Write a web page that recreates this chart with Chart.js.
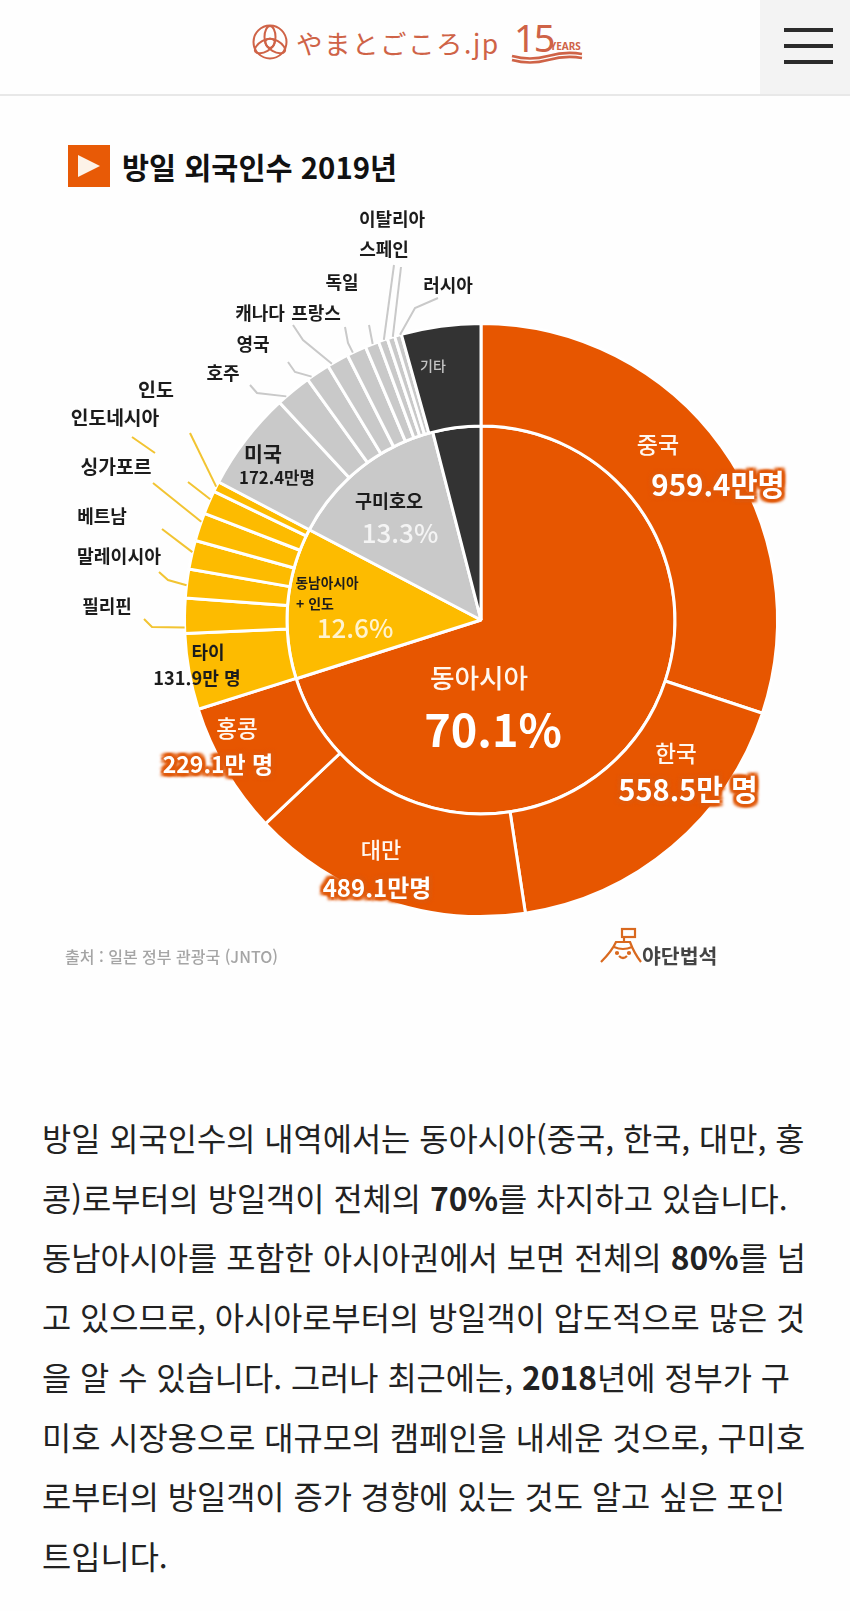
<!DOCTYPE html>
<html lang="ko">
<head>
<meta charset="utf-8">
<title>방일 외국인수 2019년</title>
<script src="https://cdn.jsdelivr.net/npm/chart.js@4"></script>
<style>
html, body { margin: 0; padding: 0; background: #fefefe; }
body { position: relative; width: 850px; height: 1611px; overflow: hidden;
       font-family: "Noto Sans CJK KR", "Noto Sans", sans-serif; color: #1c1c1c; }
.menu { position: absolute; left: 760px; top: 0; width: 90px; height: 95px; background: #f3f3f3; }
.menu i { position: absolute; left: 24px; width: 49px; height: 4px; background: #2b2b2b; }
.rule { position: absolute; left: 0; top: 94px; width: 850px; height: 2px; background: #e8e8e8; }
.brand { position: absolute; left: 296px; top: 18px; font: 400 26.5px/50px "Noto Sans CJK JP"; color: #cf6347; letter-spacing: 1.5px; white-space: nowrap; }
.fifteen { position: absolute; left: 514px; top: 14px; font: 400 38px/46px "Noto Sans", sans-serif; color: #cf6347; letter-spacing: -2px; }
.years { position: absolute; left: 550px; top: 40px; font: 700 10px/12px "Noto Sans", sans-serif; color: #cf6347; }
.title { position: absolute; left: 122px; top: 146px; font: 700 29.4px/40px "Noto Sans CJK KR"; color: #111; white-space: nowrap; }
#chartBox { position: absolute; left: 0; top: 190px; width: 850px; height: 780px; }
.lbl { position: absolute; transform: translate(-50%, -50%); white-space: nowrap; font-weight: 700; line-height: 1; }
/* the scanned labels carry an orange patch where they run off the pie */
.glow { text-shadow: 3px 0 2px #e0590a, -3px 0 2px #e0590a, 0 3px 2px #e0590a, 0 -3px 2px #e0590a, 3px 3px 3px #e0590a, -3px 3px 3px #e0590a, 3px -3px 3px #e0590a, -3px -3px 3px #e0590a; }
.source { position: absolute; left: 65px; top: 945px; font: 500 16px/22px "Noto Sans CJK KR"; color: #a5a5a5; white-space: nowrap; }
.maker { position: absolute; left: 642px; top: 940px; font: 700 20.5px/30px "Noto Sans CJK KR"; color: #444; white-space: nowrap; }
.body { position: absolute; left: 42px; top: 1108px; font: 400 31.75px/59.7px "Noto Sans CJK KR"; color: #222; white-space: nowrap; }
.body b { font-weight: 700; }
</style>
</head>
<body>
<svg style="position:absolute;left:0;top:0" width="850" height="200">
  <g fill="none" stroke="#cf6347" stroke-width="2">
    <circle cx="270" cy="42" r="16.5"/>
    <ellipse cx="270" cy="37" rx="5.5" ry="11"/>
    <ellipse cx="270" cy="37" rx="5.5" ry="11" transform="rotate(120 270 43)"/>
    <ellipse cx="270" cy="37" rx="5.5" ry="11" transform="rotate(240 270 43)"/>
    <path d="M512 56 Q530 61 548 56 T582 54 M512 60 Q530 65 548 60 T582 58" stroke-width="2.5"/>
  </g>
  <rect x="68" y="145" width="42" height="42" fill="#e85a06"/>
  <path d="M78 155 L100 166 L78 177Z" fill="#fdf3e8"/>
</svg>
<div class="brand">やまとごころ.jp</div>
<div class="fifteen">15</div>
<div class="years">YEARS</div>
<div class="menu"><i style="top:28px"></i><i style="top:44px"></i><i style="top:60px"></i></div>
<div class="rule"></div>
<div class="title">방일 외국인수 2019년</div>
<div id="chartBox"><canvas id="chart" width="850" height="780"></canvas></div>
<div id="labels"></div>
<div class="source">출처 : 일본 정부 관광국 (JNTO)</div>
<svg style="position:absolute;left:600px;top:925px" width="44" height="48">
  <g fill="none" stroke="#d9691f" stroke-width="2.2">
    <rect x="22" y="4" width="13" height="8"/>
    <path d="M24 12 V18 M1 37 Q12 26 16 17 H30 Q34 28 41 37 M14 22 Q23 26 32 22 M19 31 Q23 35 27 31"/>
    <circle cx="17" cy="28" r="1"/>
    <circle cx="29" cy="28" r="1"/>
  </g>
</svg>
<div class="maker">야단법석</div>
<div class="body">
방일 외국인수의 내역에서는 동아시아(중국, 한국, 대만, 홍<br>
콩)로부터의 방일객이 전체의 <b>70%</b>를 차지하고 있습니다.<br>
동남아시아를 포함한 아시아권에서 보면 전체의 <b>80%</b>를 넘<br>
고 있으므로, 아시아로부터의 방일객이 압도적으로 많은 것<br>
을 알 수 있습니다. 그러나 최근에는, <b>2018</b>년에 정부가 구<br>
미호 시장용으로 대규모의 캠페인을 내세운 것으로, 구미호<br>
로부터의 방일객이 증가 경향에 있는 것도 알고 싶은 포인<br>
트입니다.
</div>

<script>
// Outer ring: countries, in 만명
const countries = ['중국', '한국', '대만', '홍콩', '타이', '필리핀', '말레이시아', '베트남', '싱가포르', '인도네시아', '인도',
                   '미국', '호주', '영국', '캐나다', '프랑스', '독일', '이탈리아', '스페인', '러시아', '기타'];
const countryValues = [959.4, 558.5, 489.1, 229.1, 131.9, 61, 50, 50, 49, 41, 18,
                       172.4, 62, 42, 38, 34, 24, 16, 13, 12, 138];

// Inner ring: regions, in %
const regions = ['동아시아', '동남아시아 + 인도', '구미호오', '기타'];
const regionValues = [70.1, 12.6, 13.3, 4.0];

const ORANGE = '#e75600';
const YELLOW = '#fdbb00';
const GREY = '#c9c9c9';
const DARK = '#333333';

const countryColors = countries.map(function(name, i) {
    if (i < 4) return ORANGE;
    if (i < 11) return YELLOW;
    if (i < 20) return GREY;
    return DARK;
});

// Leader lines: where on the slice they leave (0-1 along the arc), then the bends in page pixels
const leaders = {
    '필리핀': { at: 0.17, via: [[152, 627], [144, 619]] },
    '말레이시아': { at: 0.44, via: [[168, 580], [159, 572]] },
    '베트남': { at: 0.59, via: [[162, 529]] },
    '싱가포르': { at: 0.69, via: [[153, 483]] },
    '인도네시아': { at: 0.64, via: [[188, 482]] },
    '인도': { at: 0.5, via: [[190, 433]] },
    '호주': { at: 0.25, via: [[257, 393], [250, 385]] },
    '영국': { at: 0.2, via: [[295, 372], [288, 362]] },
    '캐나다': { at: 0.2, via: [[303, 340], [293, 325]] },
    '프랑스': { at: 0.3, via: [[348, 343], [345, 327]] },
    '독일': { at: 0.55, via: [[369, 325]] },
    '이탈리아': { at: 0.6, via: [[394, 265]] },
    '스페인': { at: 0.75, via: [[401, 267]] },
    '러시아': { at: 0.8, via: [[415, 308], [438, 298]] }
};

// Text on and around the pie: text, centre x, centre y, size, colour, glow, weight
const labelSpots = [
    ['이탈리아', 392, 218, 18, '#1c1c1c'], ['스페인', 384, 248, 18, '#1c1c1c'],
    ['독일', 342, 281, 18, '#1c1c1c'], ['러시아', 448, 284, 18, '#1c1c1c'],
    ['캐나다', 260, 312, 18, '#1c1c1c'], ['프랑스', 316, 312, 18, '#1c1c1c'],
    ['영국', 253, 343, 18, '#1c1c1c'], ['호주', 223, 372, 18, '#1c1c1c'],
    ['인도', 156, 389, 19.5, '#1c1c1c'], ['인도네시아', 115, 418, 19.3, '#1c1c1c'],
    ['싱가포르', 116, 467, 19.3, '#1c1c1c'], ['베트남', 102, 515, 18, '#1c1c1c'],
    ['말레이시아', 119, 555, 18.3, '#1c1c1c'], ['필리핀', 107, 605, 18, '#1c1c1c'],
    ['타이', 208, 651, 18, '#1c1c1c'], ['131.9만 명', 197, 677, 18.2, '#1c1c1c'],
    ['미국', 263, 453, 20.6, '#1c1c1c'], ['172.4만명', 277, 477, 16.8, '#1c1c1c'],
    ['구미호오', 389, 500, 18.5, '#1c1c1c'], ['13.3%', 400, 532, 26, '#f4f4f4', false, 500],
    ['기타', 433, 365, 14, '#c4c4c4', false, 500],
    ['동남아시아', 327, 583, 13.7, '#1c1c1c'], ['+ 인도', 315, 603, 14, '#1c1c1c'],
    ['12.6%', 355, 627, 26, '#fff3cf', false, 500],
    ['동아시아', 479, 677, 26.7, '#fff7ef', false, 500], ['70.1%', 493, 727, 45, '#ffffff'],
    ['중국', 658, 443, 23, '#fff7ef', false, 500], ['959.4만명', 718, 484, 29.5, '#ffffff', true],
    ['한국', 676, 752, 22.5, '#fff7ef', false, 500], ['558.5만 명', 688, 788, 29, '#ffffff', true],
    ['대만', 381, 848, 22, '#fff7ef', false, 500], ['489.1만명', 377, 887, 24, '#ffffff', true],
    ['홍콩', 237, 727, 22.5, '#fff7ef', false, 500], ['229.1만 명', 218, 763, 23, '#ffffff', true]
];

// Draws the leader lines once the slices are placed
const leaderPlugin = {
    id: 'leaders',
    afterDraw: function(chart) {
        const box = chart.canvas.getBoundingClientRect();
        const ctx = chart.ctx;
        const arcs = chart.getDatasetMeta(0).data;
        ctx.save();
        ctx.translate(-box.left, -box.top);
        ctx.lineWidth = 2;
        countries.forEach(function(name, i) {
            const line = leaders[name];
            if (!line) return;
            const arc = arcs[i].getProps(['x', 'y', 'startAngle', 'endAngle', 'outerRadius'], true);
            const angle = arc.startAngle + (arc.endAngle - arc.startAngle) * line.at;
            ctx.strokeStyle = countryColors[i] === YELLOW ? '#f2c432' : '#c9c9c9';
            ctx.beginPath();
            ctx.moveTo(box.left + arc.x + Math.cos(angle) * arc.outerRadius, box.top + arc.y + Math.sin(angle) * arc.outerRadius);
            line.via.forEach(function(p) { ctx.lineTo(p[0], p[1]); });
            // Indonesia's line has a stray piece further out, as in the original
            if (name === '인도네시아') {
                ctx.moveTo(155, 453);
                ctx.lineTo(132, 437);
            }
            ctx.stroke();
        });
        ctx.restore();
    }
};

function placeLabels() {
    const holder = document.getElementById('labels');
    labelSpots.forEach(function(spot) {
        const el = document.createElement('span');
        el.className = spot[5] ? 'lbl glow' : 'lbl';
        el.textContent = spot[0];
        el.style.left = spot[1] + 'px';
        el.style.top = spot[2] + 'px';
        el.style.fontSize = spot[3] + 'px';
        el.style.color = spot[4];
        if (spot[6]) el.style.fontWeight = spot[6];
        holder.appendChild(el);
    });
}

new Chart(document.getElementById('chart').getContext('2d'), {
    type: 'pie',
    data: {
        labels: countries,
        datasets: [
            { data: countryValues, backgroundColor: countryColors, borderColor: '#ffffff', borderWidth: 3, weight: 102 },
            { data: regionValues, backgroundColor: [ORANGE, YELLOW, GREY, DARK], borderColor: '#ffffff', borderWidth: 3, weight: 193 }
        ]
    },
    options: {
        responsive: false,
        animation: false,
        layout: { padding: { left: 183, right: 71, top: 132, bottom: 52 } },
        plugins: { legend: { display: false }, tooltip: { enabled: false } }
    },
    plugins: [leaderPlugin]
});
placeLabels();
</script>
</body>
</html>
